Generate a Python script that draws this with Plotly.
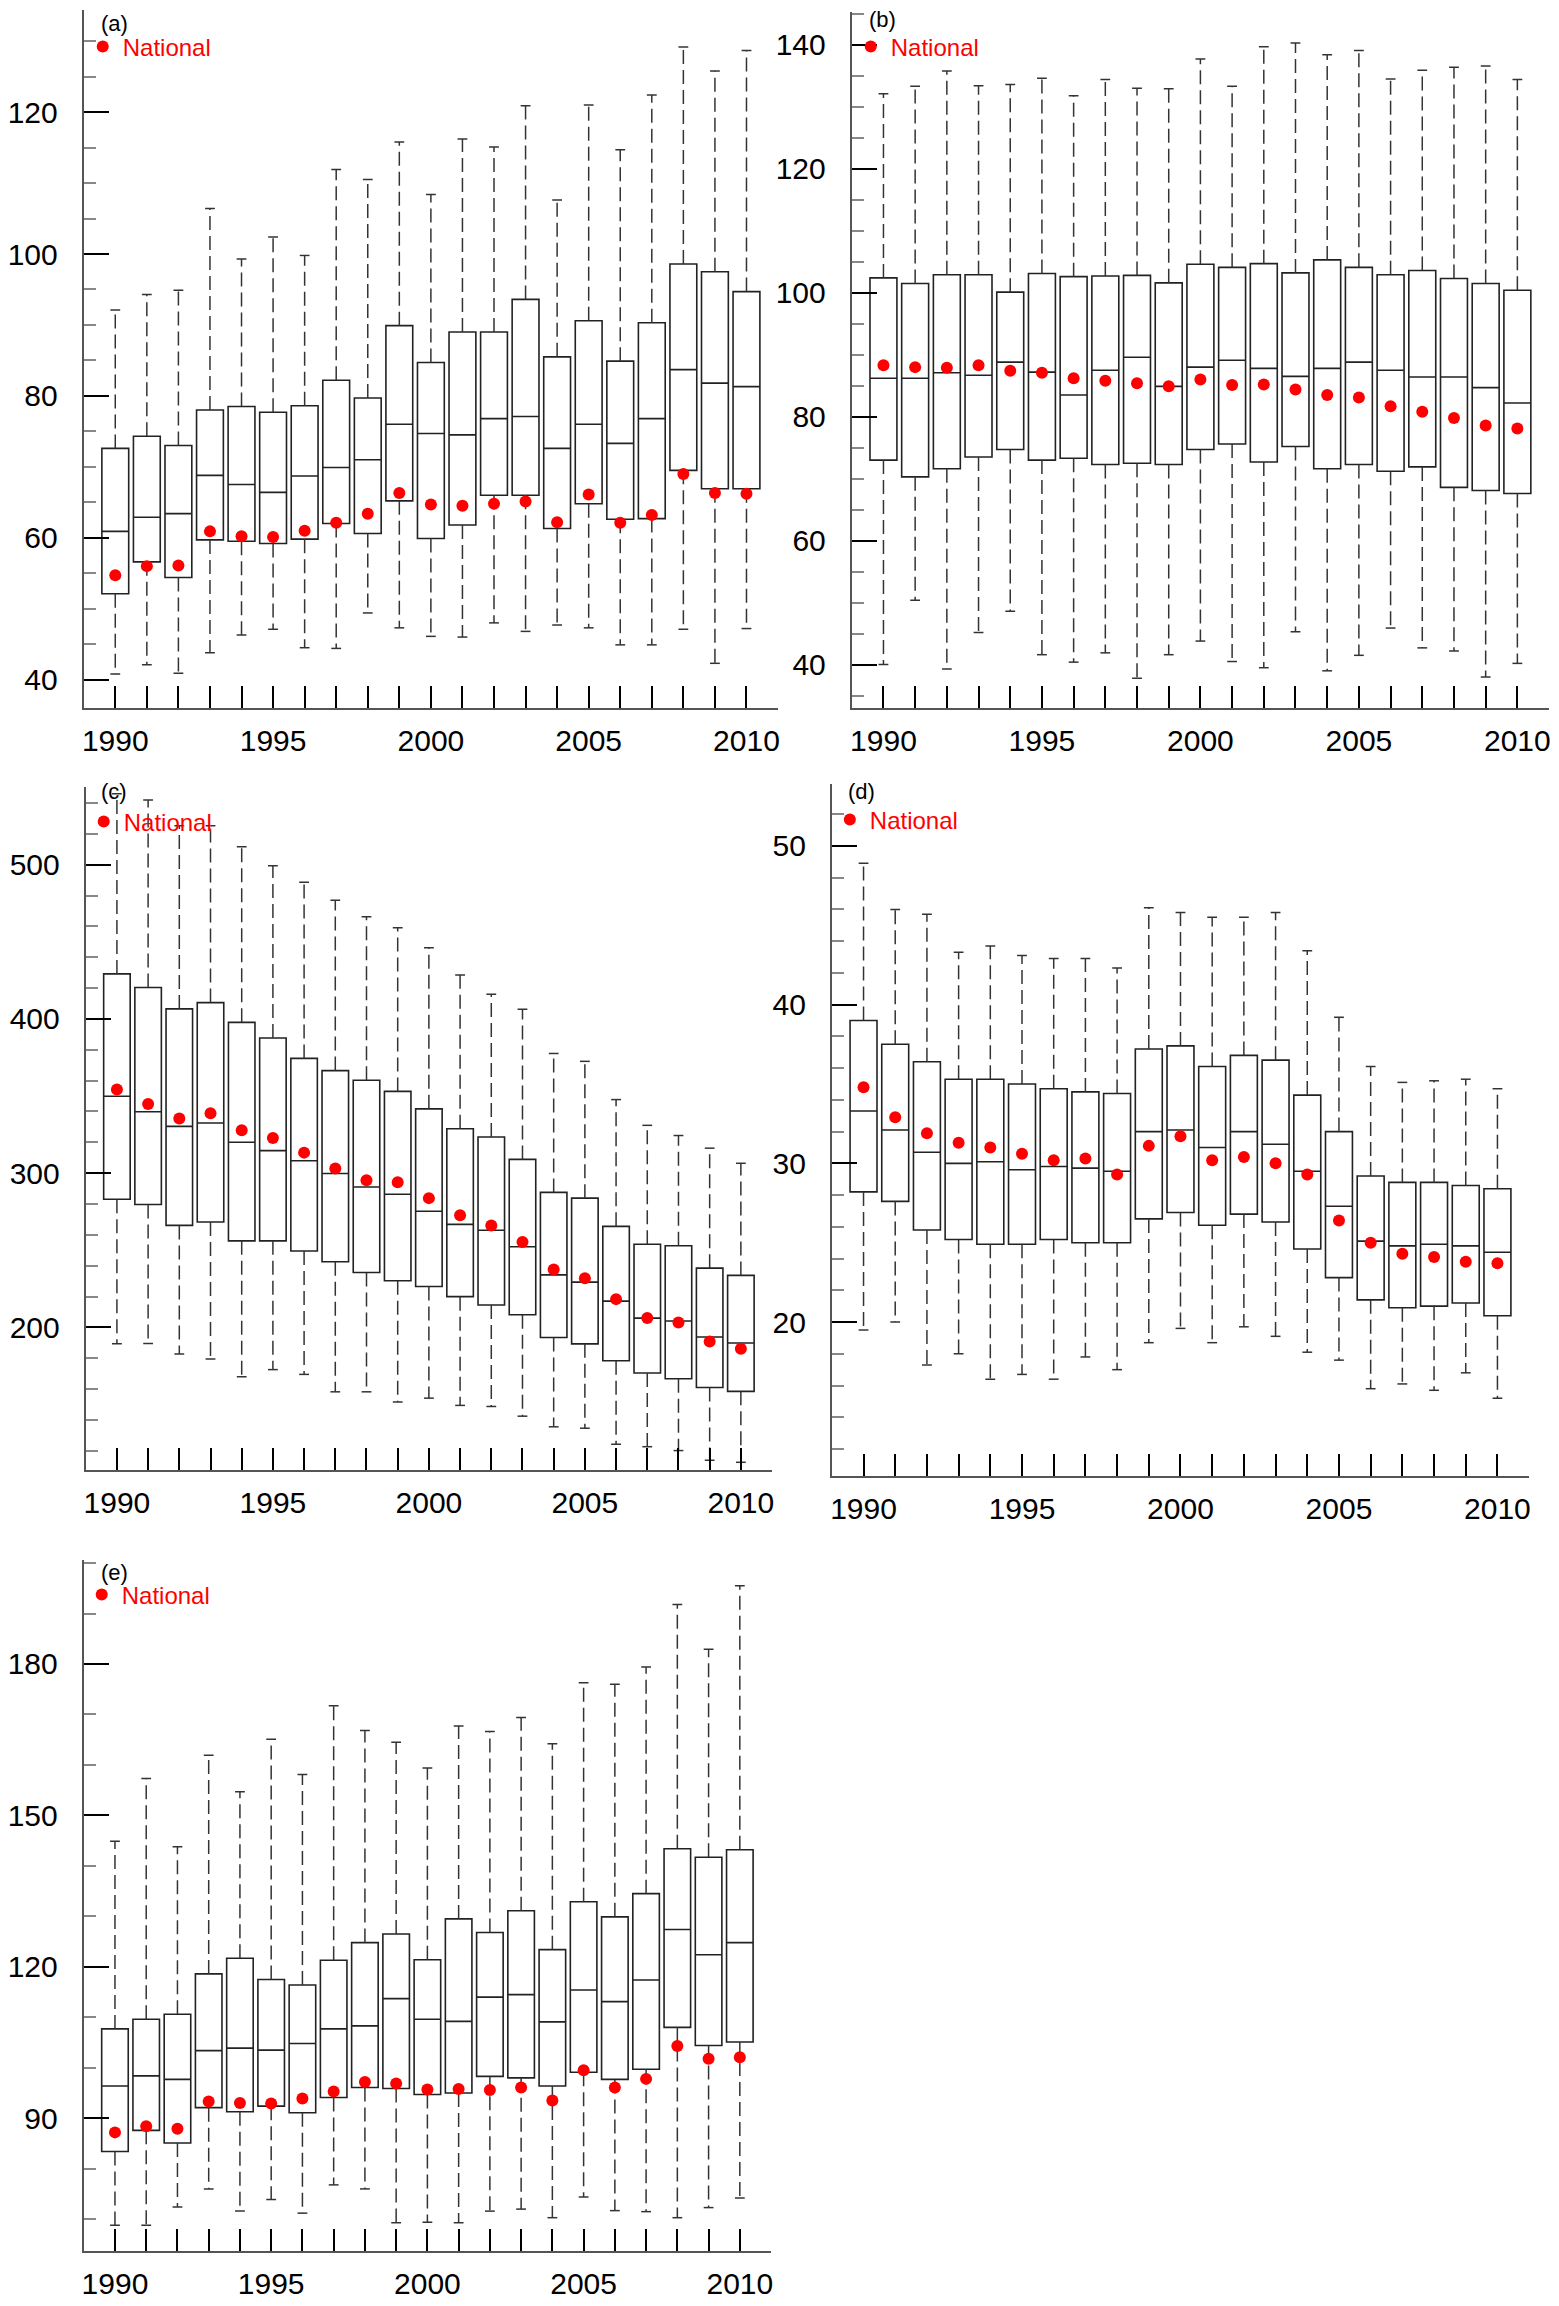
import plotly.graph_objects as go
from plotly.subplots import make_subplots

W, H = 1559, 2306
FONT = "Liberation Sans"

years = list(range(1990, 2011))

# ---- panel (a) ----
a_low = [40.8, 42.1, 40.9, 43.8, 46.3, 47.1, 44.5, 44.4, 49.4, 47.3, 46.1, 46.0, 48.0, 46.8, 47.7, 47.3, 44.9, 44.9, 47.1, 42.3, 47.2]
a_q1 = [52.1, 56.6, 54.4, 59.7, 59.5, 59.2, 59.8, 62.0, 60.6, 65.2, 59.9, 61.8, 66.0, 66.0, 61.3, 64.8, 62.6, 62.7, 69.5, 66.9, 66.9]
a_med = [60.9, 62.9, 63.4, 68.8, 67.5, 66.4, 68.7, 69.9, 71.0, 76.0, 74.7, 74.5, 76.8, 77.1, 72.6, 76.0, 73.3, 76.8, 83.7, 81.8, 81.3]
a_q3 = [72.6, 74.3, 73.0, 78.0, 78.5, 77.7, 78.6, 82.2, 79.7, 89.9, 84.7, 89.0, 89.0, 93.6, 85.5, 90.6, 84.9, 90.3, 98.6, 97.5, 94.7]
a_high = [92.1, 94.3, 94.9, 106.4, 99.3, 102.4, 99.8, 111.9, 110.5, 115.8, 108.4, 116.2, 115.1, 120.9, 107.6, 121.0, 114.7, 122.4, 129.2, 125.8, 128.7]
a_nat = [54.7, 56.0, 56.1, 60.9, 60.2, 60.1, 61.0, 62.1, 63.4, 66.3, 64.7, 64.5, 64.8, 65.1, 62.2, 66.1, 62.1, 63.2, 69.0, 66.3, 66.2]

# ---- panel (b) ----
b_low = [40.0, 50.4, 39.3, 45.2, 48.6, 41.6, 40.4, 41.9, 37.8, 41.6, 43.8, 40.5, 39.5, 45.3, 39.0, 41.5, 45.9, 42.7, 42.2, 38.0, 40.2]
b_q1 = [73.0, 70.3, 71.6, 73.5, 74.7, 73.0, 73.3, 72.3, 72.5, 72.3, 74.7, 75.6, 72.7, 75.2, 71.6, 72.3, 71.2, 71.9, 68.6, 68.1, 67.6]
b_med = [86.2, 86.2, 87.1, 86.7, 88.8, 87.2, 83.5, 87.5, 89.6, 84.9, 88.0, 89.1, 87.8, 86.5, 87.8, 88.8, 87.5, 86.4, 86.4, 84.7, 82.2]
b_q3 = [102.4, 101.5, 102.9, 102.9, 100.1, 103.1, 102.6, 102.7, 102.8, 101.6, 104.6, 104.1, 104.7, 103.2, 105.3, 104.1, 102.9, 103.6, 102.3, 101.5, 100.4]
b_high = [132.1, 133.3, 135.8, 133.4, 133.6, 134.6, 131.8, 134.4, 133.0, 132.9, 137.7, 133.3, 139.7, 140.3, 138.4, 139.1, 134.5, 135.9, 136.4, 136.6, 134.4]
b_nat = [88.3, 88.0, 87.9, 88.3, 87.4, 87.1, 86.2, 85.8, 85.4, 84.9, 86.0, 85.1, 85.2, 84.4, 83.5, 83.1, 81.7, 80.8, 79.8, 78.6, 78.1]

# ---- panel (c) ----
c_low = [189.3, 189.6, 182.7, 179.5, 167.9, 172.6, 169.5, 158.2, 158.2, 151.6, 154.1, 149.4, 148.7, 142.4, 135.5, 134.6, 124.2, 122.6, 120.1, 113.8, 112.5]
c_q1 = [283.1, 279.7, 266.1, 268.3, 256.1, 256.1, 249.5, 242.5, 235.6, 230.2, 226.5, 219.9, 214.5, 208.2, 193.4, 189.3, 178.3, 170.4, 166.7, 161.0, 158.5]
c_med = [349.9, 339.8, 330.3, 332.5, 320.0, 314.6, 308.0, 299.8, 291.0, 286.3, 275.3, 266.8, 263.0, 252.3, 234.0, 229.3, 217.0, 206.0, 204.1, 193.7, 189.9]
c_q3 = [429.2, 420.4, 406.5, 410.6, 397.8, 387.6, 374.4, 366.5, 360.2, 353.0, 341.7, 328.8, 323.4, 308.9, 287.5, 283.8, 265.5, 253.9, 252.9, 238.4, 233.7]
c_high = [546.0, 541.9, 525.2, 525.2, 511.6, 499.4, 488.7, 477.0, 466.3, 459.1, 446.2, 428.5, 416.0, 406.2, 377.6, 372.5, 347.7, 331.0, 324.4, 316.2, 306.4]
c_nat = [354.3, 344.8, 335.4, 338.8, 327.8, 322.8, 313.3, 303.0, 295.4, 294.1, 283.8, 272.7, 266.1, 255.4, 237.5, 231.8, 218.3, 206.0, 203.2, 190.9, 186.2]

# ---- panel (d) ----
d_low = [19.5, 20.0, 17.3, 18.0, 16.4, 16.7, 16.4, 17.8, 17.0, 18.7, 19.6, 18.7, 19.7, 19.1, 18.1, 17.6, 15.8, 16.1, 15.7, 16.8, 15.2]
d_q1 = [28.2, 27.6, 25.8, 25.2, 24.9, 24.9, 25.2, 25.0, 25.0, 26.5, 26.9, 26.1, 26.8, 26.3, 24.6, 22.8, 21.4, 20.9, 21.0, 21.2, 20.4]
d_med = [33.3, 32.1, 30.7, 30.0, 30.1, 29.6, 29.8, 29.7, 29.5, 32.0, 32.1, 31.0, 32.0, 31.2, 29.5, 27.3, 25.1, 24.8, 24.9, 24.8, 24.4]
d_q3 = [39.0, 37.5, 36.4, 35.3, 35.3, 35.0, 34.7, 34.5, 34.4, 37.2, 37.4, 36.1, 36.8, 36.5, 34.3, 32.0, 29.2, 28.8, 28.8, 28.6, 28.4]
d_high = [48.9, 46.0, 45.7, 43.3, 43.7, 43.1, 42.9, 42.9, 42.3, 46.1, 45.8, 45.5, 45.5, 45.8, 43.4, 39.2, 36.1, 35.1, 35.2, 35.3, 34.7]
d_nat = [34.8, 32.9, 31.9, 31.3, 31.0, 30.6, 30.2, 30.3, 29.3, 31.1, 31.7, 30.2, 30.4, 30.0, 29.3, 26.4, 25.0, 24.3, 24.1, 23.8, 23.7]

# ---- panel (e) ----
e_low = [68.8, 68.8, 72.4, 76.0, 71.6, 73.9, 71.2, 76.8, 76.0, 69.3, 69.4, 69.3, 71.6, 72.0, 70.3, 74.4, 71.7, 71.5, 70.3, 72.3, 74.2]
e_q1 = [83.4, 87.6, 85.1, 92.1, 91.3, 92.4, 91.1, 94.1, 96.1, 95.9, 94.7, 95.0, 98.3, 98.0, 96.4, 99.1, 97.7, 99.7, 108.0, 104.4, 105.1]
e_med = [96.4, 98.4, 97.7, 103.4, 103.9, 103.5, 104.8, 107.7, 108.3, 113.7, 109.6, 109.2, 114.0, 114.5, 109.1, 115.4, 113.1, 117.4, 127.4, 122.4, 124.8]
e_q3 = [107.7, 109.6, 110.6, 118.6, 121.7, 117.5, 116.4, 121.3, 124.8, 126.5, 121.4, 129.5, 126.8, 131.1, 123.4, 132.9, 129.9, 134.5, 143.4, 141.7, 143.2]
e_high = [144.9, 157.3, 143.8, 161.9, 154.7, 165.1, 158.1, 171.7, 166.8, 164.5, 159.4, 167.7, 166.6, 169.4, 164.2, 176.3, 176.0, 179.4, 191.8, 182.9, 195.5]
e_nat = [87.2, 88.4, 87.9, 93.3, 93.0, 92.9, 93.9, 95.3, 97.2, 96.9, 95.7, 95.8, 95.6, 96.1, 93.5, 99.5, 96.1, 97.8, 104.3, 101.8, 102.1]

panels = [
    # label, data, (row, col), y range, major dtick, minor dtick, plot box px (l, t, r, b), label px, dot px
    ("(a)", (a_low, a_q1, a_med, a_q3, a_high, a_nat), (1, 1), [36, 134.4], 20, 5,
     (72, 2, 769, 700), (103, 15), (101, 39)),
    ("(b)", (b_low, b_q1, b_med, b_q3, b_high, b_nat), (1, 2), [33, 145.3], 20, 5,
     (843, 4, 1543, 700), (874, 12), (872, 39)),
    ("(c)", (c_low, c_q1, c_med, c_q3, c_high, c_nat), (2, 1), [107.5, 550.4], 100, 20,
     (74, 779, 763, 1462), (102, 784), (102, 814)),
    ("(d)", (d_low, d_q1, d_med, d_q3, d_high, d_nat), (2, 2), [10.3, 53.9], 10, 2,
     (823, 776, 1523, 1468), (853, 784), (851, 812)),
    ("(e)", (e_low, e_q1, e_med, e_q3, e_high, e_nat), (3, 1), [63.7, 200.6], 30, 10,
     (72, 1552, 762, 2243), (103, 1564), (100, 1587)),
]

fig = make_subplots(rows=3, cols=2, specs=[[{}, {}], [{}, {}], [{}, None]])

xticks = list(range(1989, 2012))
xtext = [str(v) if v % 5 == 0 else "" for v in xticks]
box_col = "#222222"

for i, (lab, data, (r, c), yr, dt, mdt, box, lab_px, dot_px) in enumerate(panels):
    low, q1, med, q3, high, nat = data

    # dashed whiskers
    wx, wy = [], []
    for k, yv in enumerate(years):
        wx += [yv, yv, None, yv, yv, None]
        wy += [q3[k], high[k], None, q1[k], low[k], None]
    fig.add_trace(go.Scatter(x=wx, y=wy, mode="lines", showlegend=False, hoverinfo="skip",
                             line=dict(color="#333333", width=1.5, dash="14px,6px")),
                  row=r, col=c)
    # whisker caps
    fig.add_trace(go.Scatter(x=years + years, y=high + low, mode="markers", showlegend=False,
                             hoverinfo="skip",
                             marker=dict(symbol="line-ew", size=7,
                                         line=dict(color="#333333", width=1.5))),
                  row=r, col=c)
    # boxes
    fig.add_trace(go.Box(x=years, q1=q1, median=med, q3=q3, lowerfence=q1, upperfence=q3,
                         width=0.85, whiskerwidth=0, boxpoints=False, showlegend=False,
                         fillcolor="rgba(255,255,255,0)", line=dict(color=box_col, width=1.6)),
                  row=r, col=c)
    # national values
    leg = "legend" if i == 0 else f"legend{i + 1}"
    fig.add_trace(go.Scatter(x=years, y=nat, mode="markers", name="National", legend=leg,
                             marker=dict(color="red", size=12)),
                  row=r, col=c)

    l, t, rr, b = box
    fig.update_xaxes(row=r, col=c, domain=[l / W, rr / W], range=[1989, 2011],
                     tickvals=xticks, ticktext=xtext, ticks="inside", ticklen=22,
                     tickwidth=1.5, tickcolor="black", showline=True, linecolor="#555555",
                     linewidth=2, showgrid=False, zeroline=False, ticklabelstandoff=5,
                     tickfont=dict(family=FONT, size=30, color="black"))
    fig.update_yaxes(row=r, col=c, domain=[1 - b / H, 1 - t / H], range=yr, dtick=dt,
                     tick0=0, ticks="inside", ticklen=25, tickwidth=1.5, tickcolor="black",
                     showline=True, linecolor="#555555", linewidth=2, showgrid=False,
                     zeroline=False, ticklabelstandoff=18,
                     minor=dict(ticks="inside", ticklen=12, tickwidth=2, tickcolor="#888888",
                                dtick=mdt, tick0=0, showgrid=False),
                     tickfont=dict(family=FONT, size=30, color="black"))

    fig.add_annotation(text=lab, xref="paper", yref="paper", x=lab_px[0] / W, y=1 - lab_px[1] / H,
                       xanchor="center", yanchor="middle", showarrow=False,
                       font=dict(family=FONT, size=22, color="black"))
    fig.update_layout({leg: dict(x=(dot_px[0] - 30) / W, y=1 - dot_px[1] / H, xanchor="left",
                                 yanchor="middle", bgcolor="rgba(0,0,0,0)", borderwidth=0,
                                 font=dict(family=FONT, size=24, color="red"))})

fig.update_layout(width=W, height=H, margin=dict(l=0, r=0, t=0, b=0),
                  plot_bgcolor="white", paper_bgcolor="white",
                  font=dict(family=FONT, color="black"), boxgap=0)

fig.write_html("out.html")
